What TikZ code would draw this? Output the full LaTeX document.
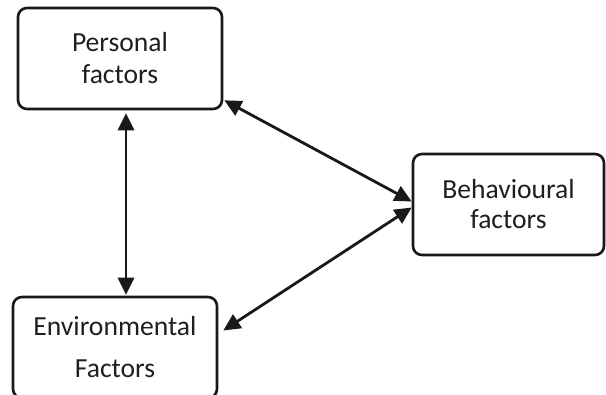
\documentclass[tikz,border=0pt]{standalone}
\usepackage{fontspec}
\setmainfont{Carlito}
\usetikzlibrary{arrows.meta}
\begin{document}
\begin{tikzpicture}[x=1pt,y=-1pt,
  box/.style={draw=black!90, line width=2.6pt, rounded corners=9pt, align=center,
    text=black!88, inner sep=0pt},
  arr/.style={draw=black!90, line width=2.8pt,
    {Triangle[length=17pt,width=16pt]}-{Triangle[length=17pt,width=16pt]}}
]
\useasboundingbox (0,0) rectangle (606,395);
\node[box, minimum width=204pt, minimum height=101pt,
  font=\fontsize{27.6}{32}\selectfont] (P) at (120,58.5) {Personal\\factors};
\node[box, minimum width=191pt, minimum height=101pt,
  font=\fontsize{27.6}{30}\selectfont] (B) at (508.5,204.5) {Behavioural\\factors};
\node[box, minimum width=204pt, minimum height=101pt,
  font=\fontsize{27.6}{42}\selectfont] (E) at (115,347.5) {Environmental\\Factors};
\draw[arr] ([xshift=6pt,yshift=-3pt]P.south) -- ([xshift=11pt,yshift=1pt]E.north);
\draw[arr] ([xshift=1pt,yshift=10pt]P.south east) -- ([yshift=3pt]B.west);
\draw[arr] ([yshift=-3pt]B.west) -- ([xshift=5pt,yshift=17pt]E.east);
\end{tikzpicture}
\end{document}
